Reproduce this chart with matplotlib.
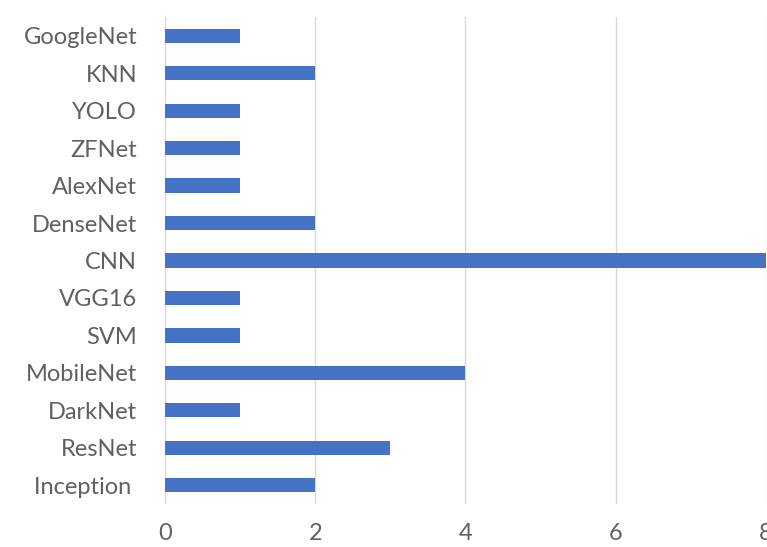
import matplotlib
matplotlib.use("Agg")
import matplotlib.pyplot as plt

models = ["GoogleNet", "KNN", "YOLO", "ZFNet", "AlexNet", "DenseNet", "CNN",
          "VGG16", "SVM", "MobileNet", "DarkNet", "ResNet", "Inception "]
counts = [1, 2, 1, 1, 1, 2, 8, 1, 1, 4, 1, 3, 2]
x_ticks = [0, 2, 4, 6, 8]

plt.rcParams["font.family"] = ["Lato", "DejaVu Sans"]

fig = plt.figure(figsize=(7.67, 5.47), dpi=100)
ax = fig.add_axes([0.2151, 0.0786, 0.7836, 0.8904])

y = list(range(len(models)))
ax.barh(y, counts, height=0.38, color="#4472C4", zorder=3)

ax.set_ylim(len(models) - 0.5, -0.5)
ax.set_xlim(0, 8)
ax.set_xticks(x_ticks)
ax.set_xticklabels([str(t) for t in x_ticks])
ax.set_yticks(y)
ax.set_yticklabels(models)

ax.grid(axis="x", color="#d9d9d9", linewidth=1, zorder=0)
for s in ax.spines.values():
    s.set_visible(False)
ax.tick_params(axis="both", length=0, labelsize=17, colors="#606060")
ax.tick_params(axis="y", pad=20)
ax.tick_params(axis="x", pad=14)
ax.set_facecolor("white")

fig.savefig("out.png", dpi=100, facecolor="white")
